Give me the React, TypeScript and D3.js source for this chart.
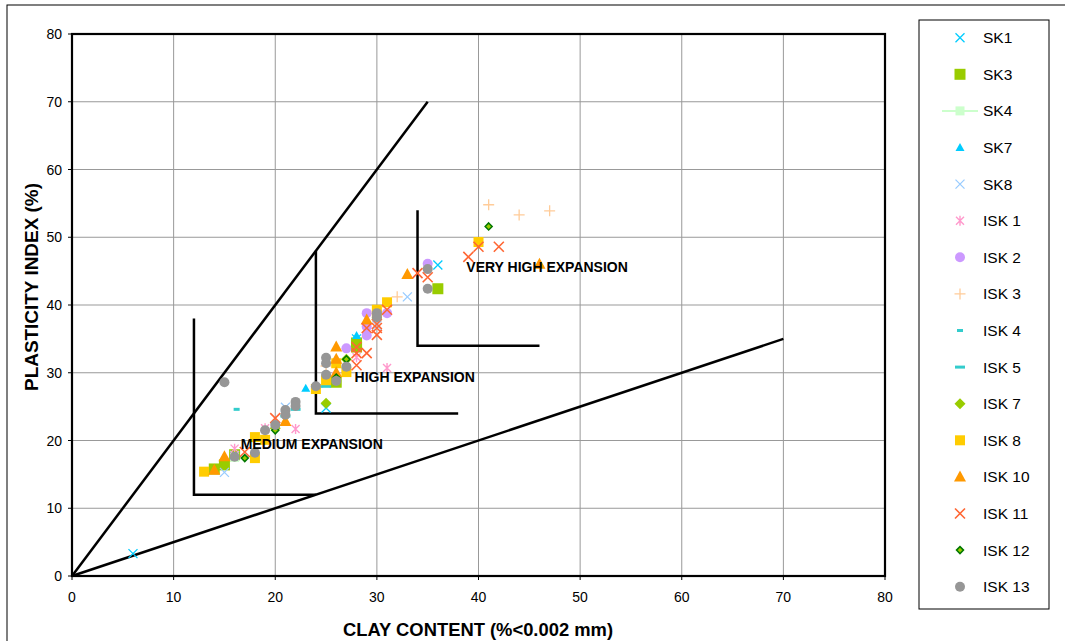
import React from "react";
import * as d3 from "d3";

// axis ticks
const xTicks = [0, 10, 20, 30, 40, 50, 60, 70, 80];
const yTicks = [0, 10, 20, 30, 40, 50, 60, 70, 80];

// series values [clay content, plasticity index]
const sk1 = [[6, 3.3], [36, 45.9], [25, 28.5], [28, 35], [18, 17.6], [25, 24.8]];
const sk3 = [[36, 42.4], [28, 34.4], [26, 28.6], [15, 16.4], [14, 15.8], [16, 17.9], [28, 33.8]];
const sk4 = [[16, 17.5]];
const sk7 = [[23, 27.7], [28, 35.5]];
const sk8 = [[15, 15.3], [33, 41.2], [16, 17.8], [21, 24.9], [30, 37]];
const isk1 = [[31, 30.7], [22, 21.7], [16, 18.8], [19, 21.8], [28, 32.3], [26, 29.5]];
const isk2 = [[35, 46.1], [29, 38.8], [31, 38.8], [27, 33.6], [29, 36.8], [29, 35.5]];
const isk3 = [[41, 54.8], [44, 53.3], [47, 53.9], [32, 41.2], [25, 31]];
const isk4 = [[16.2, 24.6], [24, 27.6]];
const isk5 = [[22, 24.6], [21, 23.6], [25, 28]];
const isk7 = [[25, 25.5], [27, 32], [20, 21.8]];
const isk8 = [[40, 49.3], [31, 40.4], [30, 39.3], [27, 30.1], [25, 28.9], [24, 27.6], [13, 15.4], [18, 17.4], [18, 20.5], [19, 20.1], [26, 31.4], [30, 38.5]];
const isk10 = [[46, 46], [33, 44.5], [26, 33.8], [26, 32], [26, 30], [29, 37.8], [21, 22.8], [15, 17.6], [14, 15.6]];
const isk11 = [[39, 47.1], [42, 48.6], [40, 48.6], [34, 44.7], [35, 44.1], [31, 39.3], [29, 36.6], [30, 36.6], [30, 35.6], [28, 32.9], [29, 32.9], [28, 33.8], [28, 31.1], [20, 23.3], [17, 18.3], [30, 37.2]];
const isk12 = [[41, 51.6], [27, 32], [17, 17.4], [20, 21.5], [26, 29.3]];
const isk13 = [[15, 28.6], [35, 45.3], [35, 42.4], [30, 38.8], [30, 38.2], [25, 32.2], [25, 29.7], [24, 28], [26, 28.8], [27, 30.9], [22, 25.7], [22, 25.1], [21, 24.5], [21, 23.8], [20, 22.3], [19, 21.5], [16, 17.6], [18, 18.2], [25, 31.4]];

const seriesNames = ["SK1", "SK3", "SK4", "SK7", "SK8", "ISK 1", "ISK 2", "ISK 3", "ISK 4", "ISK 5", "ISK 7", "ISK 8", "ISK 10", "ISK 11", "ISK 12", "ISK 13"];
const seriesData = [sk1, sk3, sk4, sk7, sk8, isk1, isk2, isk3, isk4, isk5, isk7, isk8, isk10, isk11, isk12, isk13];

// expansion zone boundaries
const boundLines = [[[0, 0], [35, 70]], [[0, 0], [70, 35]]];
const zones = [
  { label: "MEDIUM EXPANSION", x: 12, top: 38, base: 12, end: 24, lx: 16.6, ly: 18.7 },
  { label: "HIGH EXPANSION", x: 24, top: 48, base: 24, end: 38, lx: 27.8, ly: 28.6 },
  { label: "VERY HIGH EXPANSION", x: 34, top: 54, base: 34, end: 46, lx: 38.8, ly: 44.9 },
];

const W = 1065;
const H = 641;
const xs = d3.scaleLinear().domain([0, 80]).range([72, 885]);
const ys = d3.scaleLinear().domain([0, 80]).range([576, 34]);

const font = "'Liberation Sans', Arial, sans-serif";

// marker drawn at 0,0
const marker = (i: number) => {
  switch (i) {
    case 0: return <path d="M-4.5,-4.5L4.5,4.5M-4.5,4.5L4.5,-4.5" stroke="#00ccff" strokeWidth={1.3} fill="none" />;
    case 1: return <rect x={-5.5} y={-5.5} width={11} height={11} fill="#99cc00" />;
    case 2: return <rect x={-4.5} y={-4.5} width={9} height={9} fill="#ccffcc" />;
    case 3: return <path d="M0,-4.5L4.5,3.5L-4.5,3.5Z" fill="#00ccff" />;
    case 4: return <path d="M-4.5,-4.5L4.5,4.5M-4.5,4.5L4.5,-4.5" stroke="#99ccff" strokeWidth={1.3} fill="none" />;
    case 5: return <path d="M-4,-4L4,4M-4,4L4,-4M0,-5L0,5" stroke="#ff99cc" strokeWidth={1.4} fill="none" />;
    case 6: return <circle r={5} fill="#cc99ff" />;
    case 7: return <path d="M-5.5,0L5.5,0M0,-5.5L0,5.5" stroke="#ffcc99" strokeWidth={1.3} fill="none" />;
    case 8: return <rect x={-3} y={-1.5} width={6} height={3} fill="#33cccc" />;
    case 9: return <rect x={-5} y={-1.5} width={10} height={3} fill="#33cccc" />;
    case 10: return <path d="M0,-5.5L5.5,0L0,5.5L-5.5,0Z" fill="#99cc00" />;
    case 11: return <rect x={-5} y={-5} width={10} height={10} fill="#ffcc00" />;
    case 12: return <path d="M0,-6.5L6,4.5L-6,4.5Z" fill="#ff9900" />;
    case 13: return <path d="M-5,-5L5,5M-5,5L5,-5" stroke="#ff6633" strokeWidth={1.6} fill="none" />;
    case 14: return <path d="M0,-3.5L3.5,0L0,3.5L-3.5,0Z" fill="#99cc00" stroke="#007700" strokeWidth={1.5} />;
    default: return <circle r={5} fill="#969696" />;
  }
};

export default function App() {
  const legendY = d3.scaleLinear().domain([0, 15]).range([37.7, 586.7]);
  return (
    <svg width={W} height={H} style={{ position: "absolute", left: 0, top: 0, background: "#fff" }}>
      <rect x={7} y={5} width={W} height={H} fill="none" stroke="#000" strokeWidth={1} />

      {/* grid */}
      {xTicks.map((t) => (
        <line key={"gx" + t} x1={xs(t)} x2={xs(t)} y1={ys(0)} y2={ys(80)} stroke="#999" strokeWidth={1} />
      ))}
      {yTicks.map((t) => (
        <line key={"gy" + t} x1={xs(0)} x2={xs(80)} y1={ys(t)} y2={ys(t)} stroke="#999" strokeWidth={1} />
      ))}
      <rect x={xs(0)} y={ys(80)} width={xs(80) - xs(0)} height={ys(0) - ys(80)} fill="none" stroke="#000" strokeWidth={2.2} />

      {/* ticks */}
      {xTicks.map((t) => (
        <g key={"tx" + t}>
          <line x1={xs(t)} x2={xs(t)} y1={ys(0)} y2={ys(0) + 4} stroke="#000" />
          <text x={xs(t)} y={602} textAnchor="middle" fontFamily={font} fontSize={14}>{t}</text>
        </g>
      ))}
      {yTicks.map((t) => (
        <g key={"ty" + t}>
          <line x1={xs(0) - 4} x2={xs(0)} y1={ys(t)} y2={ys(t)} stroke="#000" />
          <text x={62} y={ys(t) + 5} textAnchor="end" fontFamily={font} fontSize={14}>{t}</text>
        </g>
      ))}

      {/* zone lines */}
      {boundLines.map((l, i) => (
        <line key={"b" + i} x1={xs(l[0][0])} y1={ys(l[0][1])} x2={xs(l[1][0])} y2={ys(l[1][1])} stroke="#000" strokeWidth={2.5} />
      ))}
      {zones.map((z) => (
        <path key={z.label} d={`M${xs(z.x)},${ys(z.top)}L${xs(z.x)},${ys(z.base)}L${xs(z.end)},${ys(z.base)}`} fill="none" stroke="#000" strokeWidth={2.5} />
      ))}

      {/* points */}
      {seriesData.map((s, i) => (
        <g key={"s" + i}>
          {s.map((p, j) => (
            <g key={j} transform={`translate(${xs(p[0])},${ys(p[1])})`}>{marker(i)}</g>
          ))}
        </g>
      ))}

      {zones.map((z) => (
        <text key={"l" + z.label} x={xs(z.lx)} y={ys(z.ly)} fontFamily={font} fontSize={14} fontWeight="bold">{z.label}</text>
      ))}

      {/* axis titles */}
      <text x={478} y={636} textAnchor="middle" fontFamily={font} fontSize={18} fontWeight="bold" textLength={270} lengthAdjust="spacingAndGlyphs">CLAY CONTENT (%&lt;0.002 mm)</text>
      <text transform="translate(38,287) rotate(-90)" textAnchor="middle" fontFamily={font} fontSize={18.5} fontWeight="bold" textLength={208} lengthAdjust="spacingAndGlyphs">PLASTICITY INDEX (%)</text>

      {/* legend */}
      <rect x={919} y={20} width={130} height={589} fill="#fff" stroke="#000" strokeWidth={1} />
      {seriesNames.map((n, i) => (
        <g key={n} transform={`translate(0,${legendY(i)})`}>
          {i === 2 && <line x1={942} x2={978} y1={0} y2={0} stroke="#ccffcc" strokeWidth={2} />}
          <g transform="translate(960,0)">{marker(i)}</g>
          <text x={983} y={5.5} fontFamily={font} fontSize={15.5}>{n}</text>
        </g>
      ))}
    </svg>
  );
}
